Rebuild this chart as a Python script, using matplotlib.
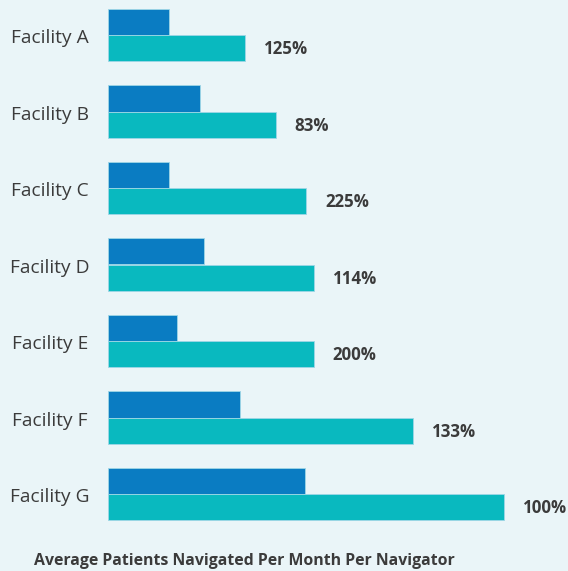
import matplotlib.pyplot as plt
import matplotlib.transforms as mtransforms
import numpy as np

facilities = ["Facility A", "Facility B", "Facility C", "Facility D",
              "Facility E", "Facility F", "Facility G"]
before = [4.0, 6.0, 4.0, 6.3, 4.5, 8.65, 12.95]
after = [9.0, 11.0, 13.0, 13.5, 13.5, 20.0, 25.95]
pct_labels = ["125%", "83%", "225%", "114%", "200%", "133%", "100%"]

bg = "#eaf5f8"
dark_blue = "#0a7cc2"
teal = "#09b9bf"
text_col = "#3b3b3b"

plt.rcParams["font.family"] = ["Open Sans", "DejaVu Sans"]

W, H = 568, 571
fig = plt.figure(figsize=(W / 100, H / 100), dpi=100, facecolor=bg)
ax = fig.add_axes([108 / W, 0, 460 / W, 1])
ax.set_facecolor(bg)

y = np.arange(len(facilities))
h = 0.344
ax.barh(y - h / 2, before, height=h, color=dark_blue,
        edgecolor="#9fd6e6", linewidth=0.6)
ax.barh(y + h / 2, after, height=h, color=teal,
        edgecolor="#9fd6e6", linewidth=0.6)

ax.set_xlim(0, 460 / 15.25)
ax.set_ylim(6 + 77 / 76.5, -35 / 76.5)
ax.axis("off")

for i, (val, lab) in enumerate(zip(after, pct_labels)):
    ax.annotate(lab, (val, i + h / 2), xytext=(19, -1), textcoords="offset pixels",
                ha="left", va="center", fontsize=12.2, fontweight="bold",
                color=text_col)

trans = mtransforms.blended_transform_factory(fig.transFigure, ax.transData)
for i, name in enumerate(facilities):
    ax.text(50 / W, i + 0.04, name, transform=trans, ha="center", va="center",
            fontsize=13.8, color=text_col)

fig.text(244 / W, 1 - 561 / H, "Average Patients Navigated Per Month Per Navigator",
         ha="center", va="center", fontsize=11.4, fontweight="bold", color=text_col)

fig.savefig("out.png", dpi=100, facecolor=bg)
